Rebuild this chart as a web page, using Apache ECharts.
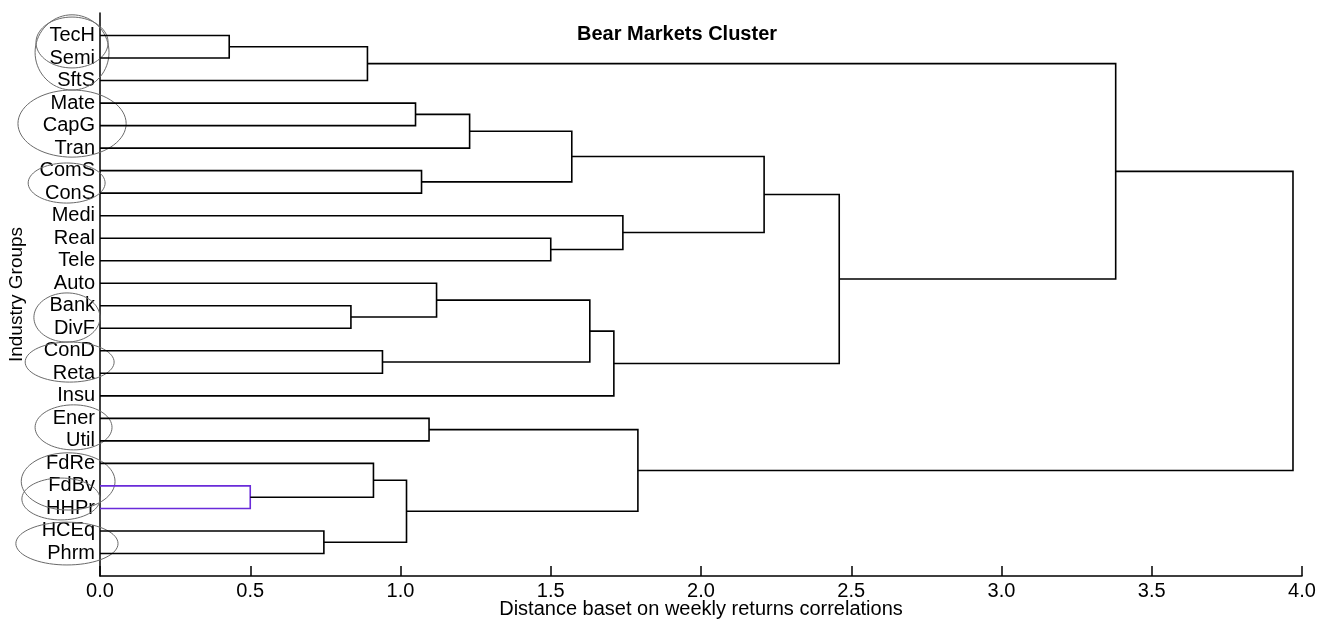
<!DOCTYPE html>
<html>
<head>
<meta charset="utf-8">
<script src="https://cdn.jsdelivr.net/npm/echarts@6/dist/echarts.min.js"></script>
<style>html,body{margin:0;padding:0;background:#fff;overflow:hidden}#c{width:1330px;height:622px}</style>
</head>
<body>
<div id="c"></div>
<script>
// Leaves in display order (top to bottom), index 0..23
const leaves = ['TecH','Semi','SftS','Mate','CapG','Tran','ComS','ConS','Medi','Real','Tele','Auto',
  'Bank','DivF','ConD','Reta','Insu','Ener','Util','FdRe','FdBv','HHPr','HCEq','Phrm'];
// Linkage: [childA, childB, distance]; new node ids start at 24
const mergeA = [0, 20, 22, 12, 24, 19, 14, 29, 3, 6, 17, 11, 32, 9, 36, 35, 39, 8, 34, 38, 43, 28, 45];
const mergeB = [1, 21, 23, 13, 2, 25, 15, 26, 4, 7, 18, 27, 5, 10, 33, 30, 16, 37, 31, 41, 40, 44, 42];
const mergeH = [0.43, 0.50, 0.745, 0.835, 0.89, 0.91, 0.94, 1.02, 1.05, 1.07, 1.095, 1.12, 1.23, 1.50,
  1.57, 1.63, 1.71, 1.74, 1.79, 2.21, 2.46, 3.38, 3.97];
const highlightMerge = 1; // FdBv-HHPr drawn in purple
// Hand-drawn ellipses around label groups: [centerX, centerY(leaf units), radiusX, radiusY]
const ellX  = [-0.093, -0.093, -0.093, -0.111, -0.110, -0.101, -0.088, -0.106, -0.130, -0.110];
const ellY  = [1.75, 1.31, 4.91, 7.55, 13.52, 15.50, 18.40, 20.80, 21.58, 23.56];
const ellRX = [0.123, 0.120, 0.180, 0.128, 0.110, 0.148, 0.128, 0.156, 0.130, 0.170];
const ellRY = [1.67, 1.13, 1.49, 0.89, 1.09, 0.89, 1.00, 1.27, 0.93, 0.95];
const xTicks = [0, 0.5, 1, 1.5, 2, 2.5, 3, 3.5, 4];

// node positions
const nLeaf = leaves.length;
const nodeH = [], nodeY = [];
for (let i = 0; i < nLeaf; i++) { nodeH[i] = 0; nodeY[i] = i + 1; }
for (let k = 0; k < mergeH.length; k++) {
  const id = nLeaf + k;
  nodeH[id] = mergeH[k];
  nodeY[id] = (nodeY[mergeA[k]] + nodeY[mergeB[k]]) / 2;
}
const linkData = mergeH.map((h, k) => [h, nodeY[nLeaf + k]]);
const ellData = ellX.map((x, i) => [x, ellY[i], ellRX[i], ellRY[i]]);

const FONT = "'Liberation Sans', Arial, Helvetica, sans-serif";
const chart = echarts.init(document.getElementById('c'), null, {renderer: 'canvas', width: 1330, height: 622});
chart.setOption({
  animation: false,
  backgroundColor: '#fff',
  title: {
    text: 'Bear Markets Cluster',
    left: 672, top: 19, textAlign: 'center',
    textStyle: {fontFamily: FONT, fontSize: 20, fontWeight: 'bold', color: '#000'}
  },
  grid: {left: 100, right: 28, top: 13, bottom: 46, containLabel: false, outerBoundsMode: 'none'},
  xAxis: {
    type: 'value', min: 0, max: 4, interval: 0.5, position: 'bottom',
    name: 'Distance baset on weekly returns correlations',
    nameLocation: 'middle', nameGap: 23, nameMoveOverlap: false,
    nameTextStyle: {fontFamily: FONT, fontSize: 20, color: '#000'},
    axisLine: {show: true, onZero: false, lineStyle: {color: '#000', width: 1.5}},
    axisTick: {show: true, inside: true, length: 10, lineStyle: {color: '#000', width: 1.5}},
    axisLabel: {fontFamily: FONT, fontSize: 20, color: '#000', margin: 5,
      formatter: v => xTicks.indexOf(v) >= 0 ? v.toFixed(1) : ''},
    splitLine: {show: false}
  },
  yAxis: {
    type: 'value', min: 0, max: nLeaf + 1, interval: 1, inverse: true,
    name: 'Industry Groups', nameLocation: 'middle', nameGap: 74, nameRotate: 90, nameMoveOverlap: false,
    nameTextStyle: {fontFamily: FONT, fontSize: 19, color: '#000'},
    axisLine: {show: true, onZero: false, lineStyle: {color: '#000', width: 1.5}},
    axisTick: {show: false},
    axisLabel: {fontFamily: FONT, fontSize: 20, color: '#000', margin: 5,
      formatter: v => (v >= 1 && v <= nLeaf) ? leaves[v - 1] : ''},
    splitLine: {show: false}
  },
  series: [
    {
      type: 'custom', clip: false, silent: true,
      data: ellData,
      encode: {x: 0, y: 1},
      renderItem: (params, api) => {
        const c = api.coord([api.value(0), api.value(1)]);
        const s = api.size([api.value(2), api.value(3)]);
        const pts = [];
        for (let t = 0; t <= 72; t++) {
          const a = t / 72 * Math.PI * 2;
          pts.push([c[0] + s[0] * Math.cos(a), c[1] + s[1] * Math.sin(a)]);
        }
        return {type: 'polyline', shape: {points: pts},
          style: {stroke: '#6a6a6a', lineWidth: 1, fill: null}};
      },
      z: 1
    },
    {
      type: 'custom', clip: false, silent: true,
      data: linkData,
      encode: {x: 0, y: 1},
      renderItem: (params, api) => {
        const k = params.dataIndex;
        const a = mergeA[k], b = mergeB[k], h = mergeH[k];
        const pts = [
          api.coord([nodeH[a], nodeY[a]]),
          api.coord([h, nodeY[a]]),
          api.coord([h, nodeY[b]]),
          api.coord([nodeH[b], nodeY[b]])
        ];
        return {type: 'polyline', shape: {points: pts},
          style: {stroke: k === highlightMerge ? '#6a2bd9' : '#000', lineWidth: 1.6, fill: null}};
      },
      z: 2
    }
  ]
});
</script>
</body>
</html>
